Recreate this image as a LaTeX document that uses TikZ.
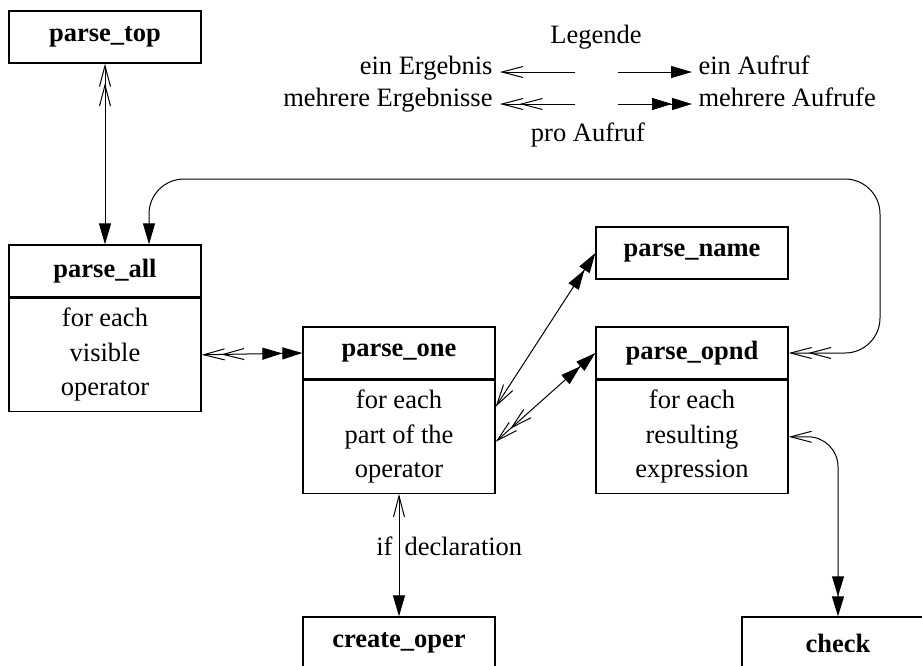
\documentclass[tikz,border=0pt]{standalone}
\usepackage{fontspec}
\setmainfont{Liberation Serif}
\usetikzlibrary{arrows.meta}

% arrow tips: open = result(s), filled = call(s)
\tikzset{
  Res/.tip={Straight Barb[length=21pt,width=11pt]},
  Ress/.tip={Straight Barb[length=21pt,width=11pt,sep=-4pt] Straight Barb[length=21pt,width=11pt]},
  Call/.tip={Triangle[length=21pt,width=12pt]},
  Calls/.tip={Triangle[length=20pt,width=12pt,sep=0pt] Triangle[length=20pt,width=12pt]},
}

\begin{document}
\begin{tikzpicture}[x=1pt,y=-1pt,line width=1pt,
  font=\fontsize{26.5}{34.5}\selectfont,
  headbox/.style={draw,line width=1.3pt,minimum width=192pt,minimum height=52pt,
    inner sep=0pt,font=\fontsize{26.5}{34.5}\selectfont\bfseries},
  bodybox/.style={draw,line width=1.3pt,minimum width=192pt,minimum height=113pt,
    inner sep=0pt,align=center,anchor=north},
  lab/.style={inner sep=0pt}]

\useasboundingbox (0,0) rectangle (922,665);
\clip (0,0) rectangle (922,665);

% legend
\node[lab] (leg) at (596,37) {Legende};
\coordinate (r1a) at (575,72);  \coordinate (r1b) at (500,72);
\coordinate (c1a) at (618,72);  \coordinate (c1b) at (692,72);
\coordinate (r2a) at (575,104); \coordinate (r2b) at (500,104);
\coordinate (c2a) at (618,104); \coordinate (c2b) at (692,104);
\node[lab,anchor=mid east] (t1) at (493,72) {ein Ergebnis};
\node[lab,anchor=mid west] (t2) at (698,72) {ein Aufruf};
\node[lab,anchor=mid east] (t3) at (493,104) {mehrere Ergebnisse};
\node[lab,anchor=mid west] (t4) at (698,104) {mehrere Aufrufe};
\node[lab,anchor=mid] (pro) at (588,139) {pro Aufruf};
\draw[-{Res}] (r1a) -- (r1b);
\draw[-{Call}] (c1a) -- (c1b);
\draw[-{Ress}] (r2a) -- (r2b);
\draw[-{Calls}] (c2a) -- (c2b);

% boxes
\node[headbox] (ptop) at (105,37) {parse\_top};

\node[headbox] (pallh) at (105,271) {parse\_all};
\node[bodybox] (pallb) at (pallh.south) {for each\\visible\\operator};

\node[headbox] (poneh) at (399,353) {parse\_one};
\node[bodybox] (poneb) at (poneh.south) {for each\\part of the\\operator};

\node[headbox] (pname) at (692,253) {parse\_name};

\node[headbox] (popndh) at (692,353) {parse\_opnd};
\node[bodybox] (popndb) at (popndh.south) {for each\\resulting\\expression};

\node[headbox] (coper) at (399,643) {create\_oper};
\node[headbox] (check) at (838,643) {check};

% connectors
\draw[{Ress}-{Call}] (ptop.south) -- (pallh.north);
\coordinate (loopA) at (880,179);
\draw[{Ress}-{Call},rounded corners=35pt] (popndh.east) -| (loopA) -| ([xshift=44pt]pallh.north);
\draw[{Ress}-{Calls}] (pallb.east) -- (poneh.west);
\draw[{Res}-{Calls}] ([yshift=30pt]poneb.east) -- (pname.west);
\draw[{Ress}-{Calls}] ([yshift=-5pt]poneb.east) -- (popndh.west);
\draw[{Res}-{Call}] (poneb.south) -- (coper.north);
\draw[{Res}-{Calls},rounded corners=30pt] (popndb.east) -| (check.north);

\node[lab,anchor=mid east] (lif) at (393,553) {if};
\node[lab,anchor=mid west] (ldecl) at (404,553) {declaration};
\end{tikzpicture}
\end{document}
